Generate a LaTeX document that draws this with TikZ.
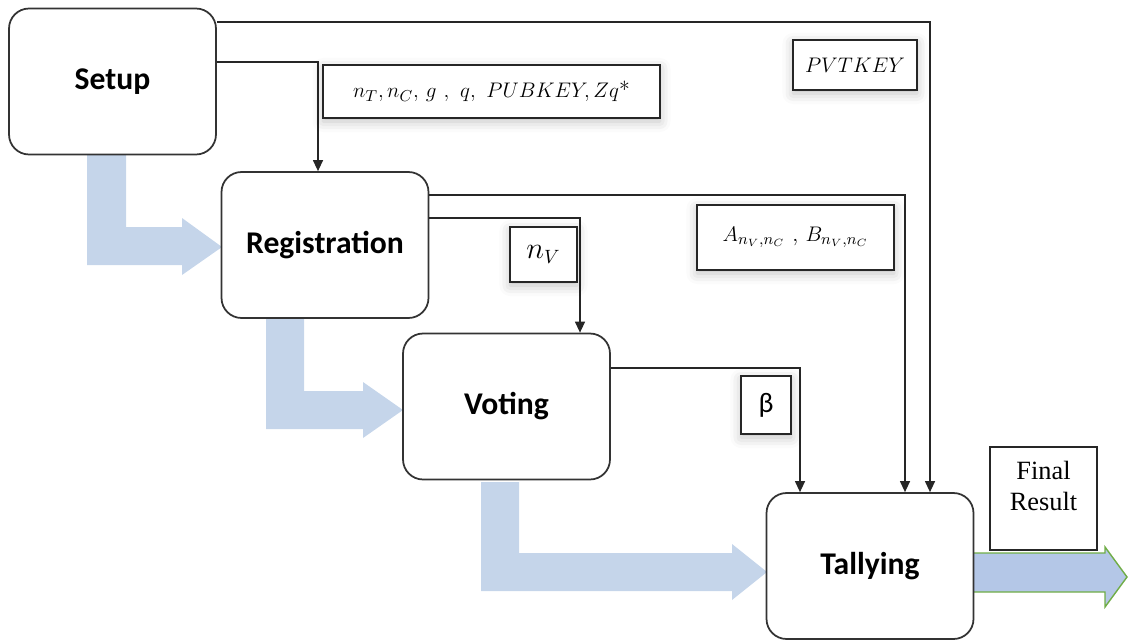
\documentclass[tikz,border=0pt]{standalone}
\usepackage{fontspec}
\usepackage{amsmath,amssymb}
\setsansfont{Carlito}
\newfontfamily\timesfont{Liberation Serif}
\usepackage{tikz}
\usetikzlibrary{positioning,arrows.meta,calc,shadows.blur}

\definecolor{flowblue}{RGB}{197,213,234}
\definecolor{outblue}{RGB}{180,199,231}
\definecolor{outgreen}{RGB}{112,173,71}

\begin{document}
\begin{tikzpicture}[
  x=0.02cm, y=-0.02cm,
  phase/.style={rectangle, draw=black!80, line width=1pt, rounded corners=0.4cm, minimum width=4.14cm, minimum height=2.92cm, align=center, font=\sffamily\bfseries\fontsize{18}{20}\selectfont, fill=white},
  tag/.style={rectangle, draw=black!85, line width=0.8pt, fill=white, inner sep=2pt, font=\fontsize{12.5}{14}\selectfont,
    blur shadow={shadow xshift=0pt, shadow yshift=-2pt, shadow blur radius=6pt, shadow opacity=25}},
  link/.style={-{Triangle[length=2.2mm,width=2mm]}, line width=0.7pt, black!85},
  flow/.style={fill=flowblue, draw=none}
]
  \useasboundingbox (0,0) rectangle (1128,642);

  % big flow arrows between the phases
  \fill[flow] (87,155) -- (126,155) -- (126,227) -- (182,227) -- (182,218) -- (222,247)
    -- (182,275) -- (182,265) -- (87,265) -- cycle;
  \fill[flow] (266,318) -- (304,318) -- (304,391) -- (363,391) -- (363,382) -- (403,410)
    -- (363,438) -- (363,429) -- (266,429) -- cycle;
  \fill[flow] (481,482) -- (519,482) -- (519,553) -- (732,553) -- (732,544) -- (767,572)
    -- (732,600) -- (732,591) -- (481,591) -- cycle;
  \draw[fill=outblue, draw=outgreen, line width=0.8pt] (973,553) -- (1105,553) -- (1105,547) -- (1127,577)
    -- (1105,607) -- (1105,592) -- (973,592);

  % phases
  \node[phase] (setup) at (112.5,81.5) {Setup};
  \node[phase] (reg) at (325,245) {Registration};
  \node[phase] (vote) at (506.5,406.5) {Voting};
  \node[phase] (tally) at (870,566) {Tallying};

  % values passed on
  \draw[link] (setup.east |- 0,22) -| (tally.north -| 930,0);
  \draw[link] (setup.east |- 0,62) -| (reg.north -| 318,0);
  \draw[link] (reg.east |- 0,195) -| (tally.north -| 905,0);
  \draw[link] (reg.east |- 0,218) -| (vote.north -| 580,0);
  \draw[link] (vote.east |- 0,368) -| (tally.north -| 800,0);

  % labels
  \node[tag, minimum width=6.74cm, minimum height=1.06cm] (params) at (491.5,91.5)
    {$n_T,n_C,\,g\ ,\ q,\ PUBKEY,Zq$*};
  \node[tag, minimum width=2.48cm, minimum height=1cm, align=right] (pvt) at (855,65)
    {\hfill$PVTKEY$};
  \node[tag, minimum width=3.94cm, minimum height=1.3cm] (ab) at (795.5,237.5)
    {$A_{n_V,n_C}$ , $B_{n_V,n_C}$};
  \node[tag, minimum width=1.34cm, minimum height=1.1cm, font=\fontsize{16}{18}\selectfont] (nv) at (543.5,254.5)
    {$n_V$};
  \node[tag, minimum width=1cm, minimum height=1.16cm, font=\sffamily\fontsize{16}{18}\selectfont] (beta) at (766,405)
    {β};
  \node[rectangle, draw=black!85, line width=0.8pt, fill=white, minimum width=2.14cm, minimum height=2.06cm] (final) at (1043.5,498.5) {};
  \node[below=0.18cm of final.north, align=center, font=\timesfont\fontsize{15}{17.5}\selectfont] (finaltxt) {Final\\Result};
\end{tikzpicture}
\end{document}
